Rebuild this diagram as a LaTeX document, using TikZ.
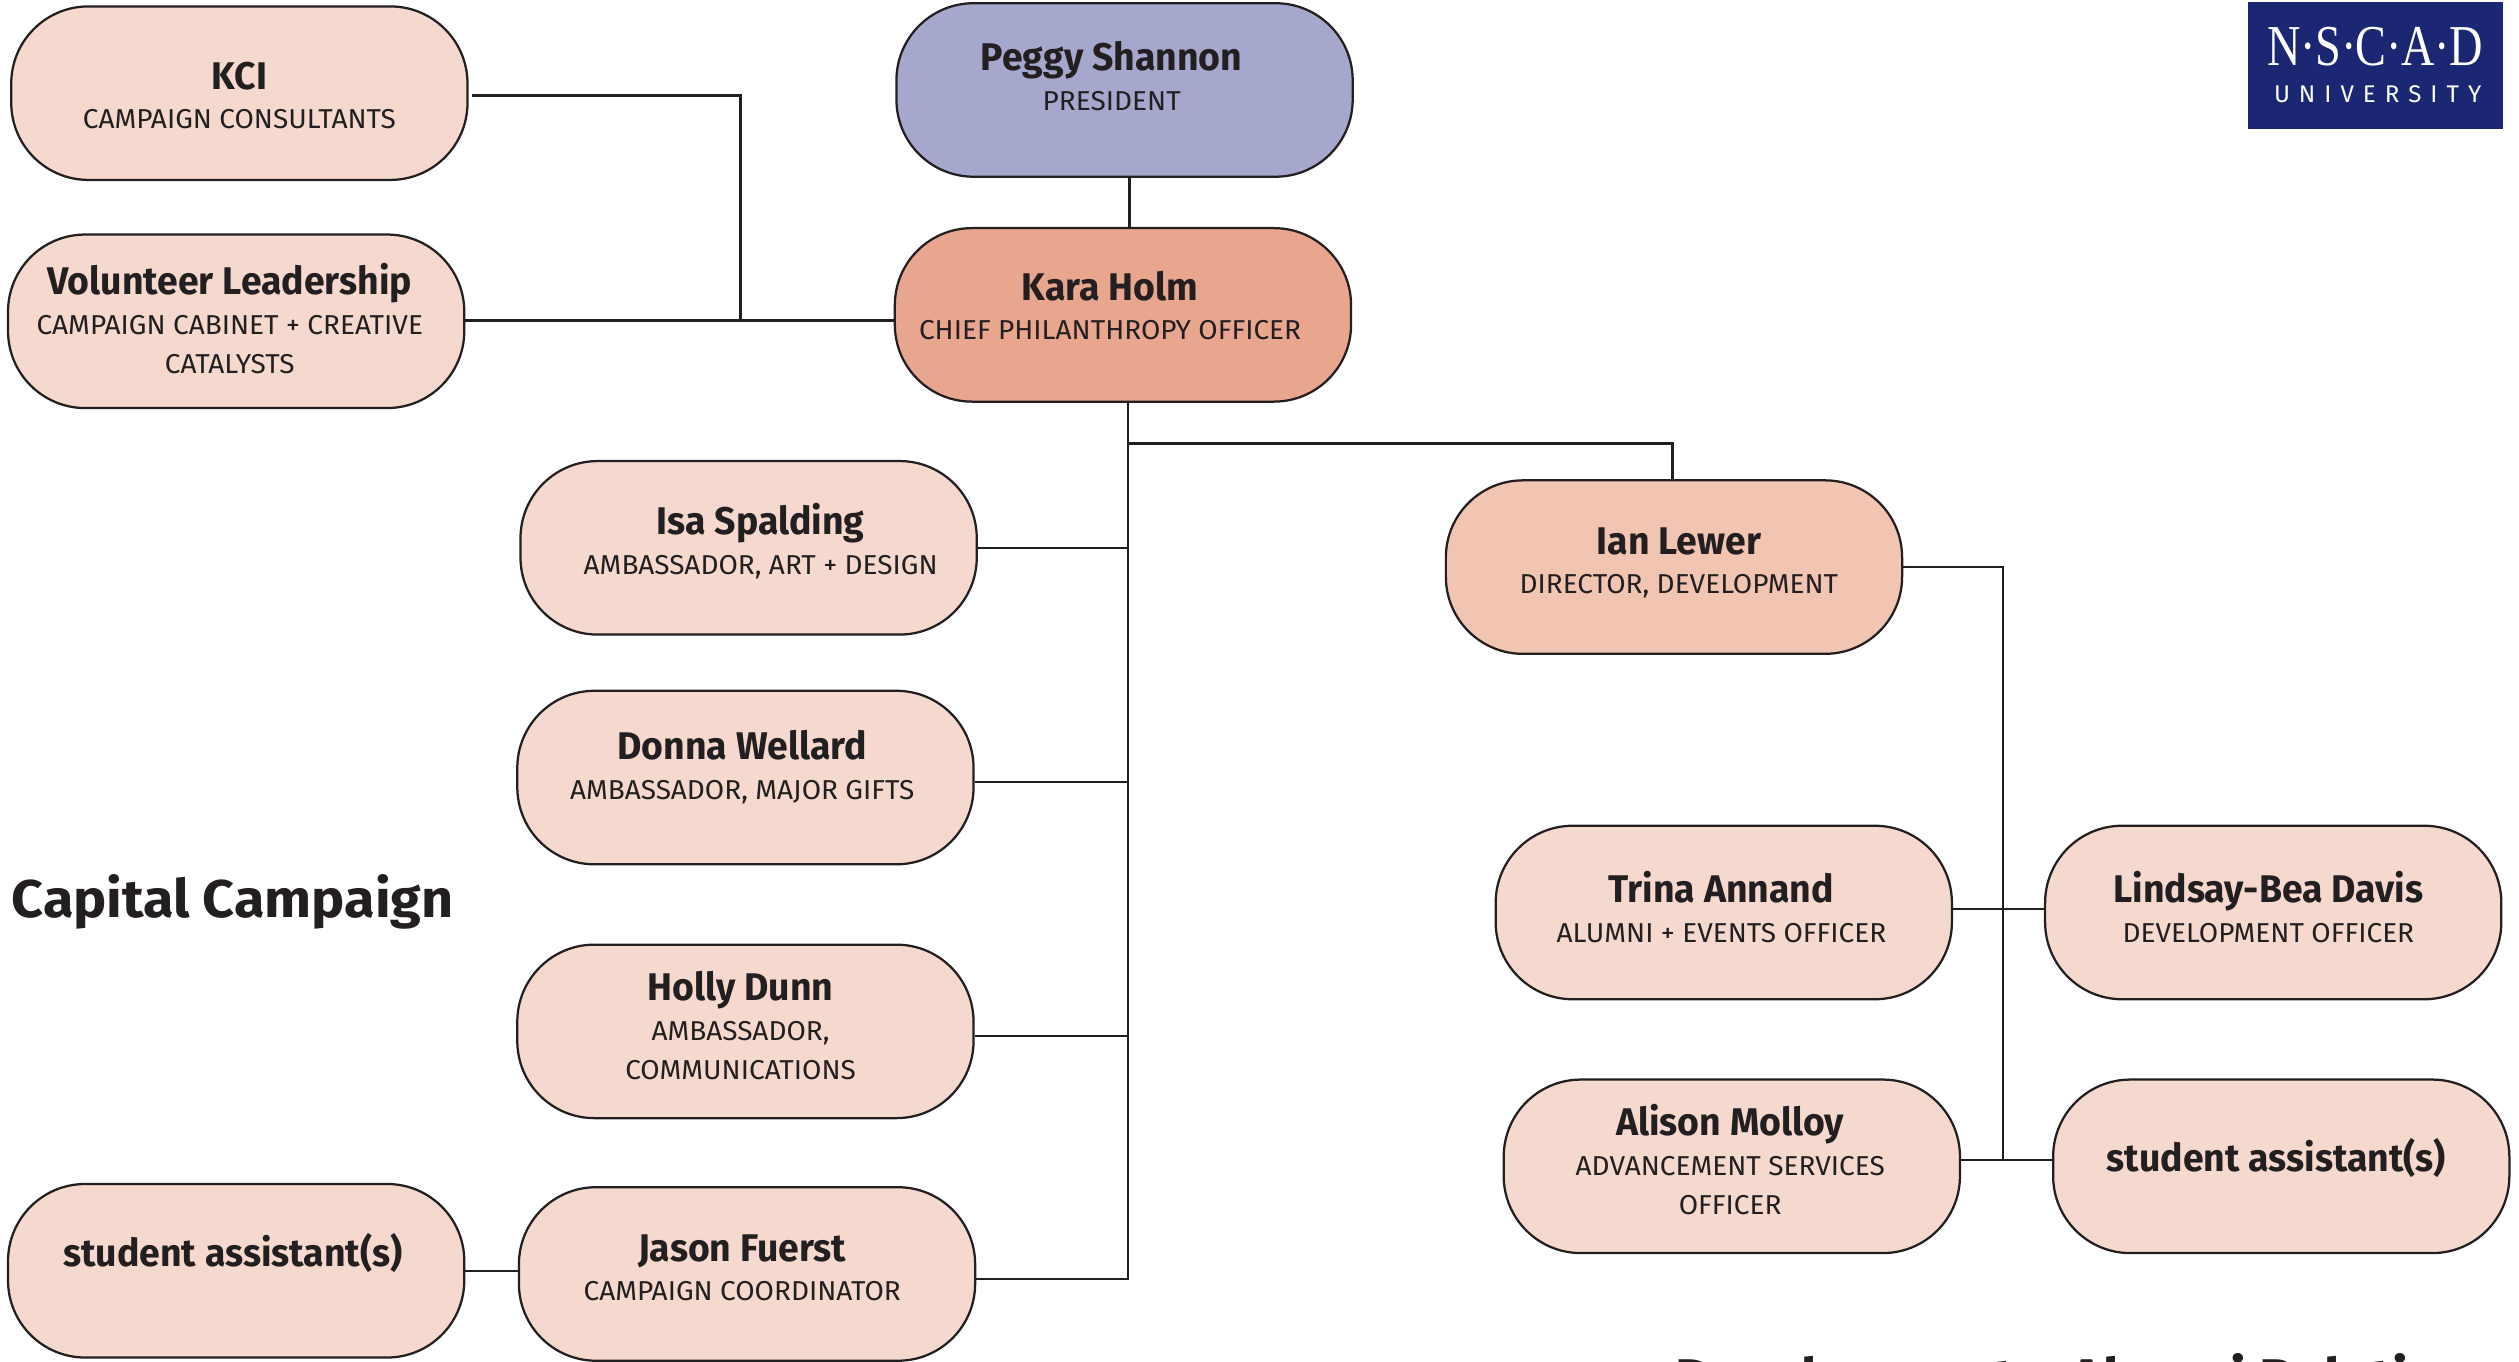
\documentclass[tikz,border=0pt]{standalone}
\usepackage{fontspec}
\setmainfont{Fira Sans}
\newfontface\rolefont{Fira Sans}[FakeStretch=1.025]
\newfontface\namefont{Fira Sans Bold}[FakeStretch=0.97]
\newfontface\headfont{Fira Sans Bold}[FakeStretch=1.05]
\newfontface\logoserif{Liberation Serif}[FakeStretch=0.8]
\definecolor{peach}{HTML}{F5D9CE}
\definecolor{peachmid}{HTML}{F2C4B2}
\definecolor{salmon}{HTML}{E9A68F}
\definecolor{lavender}{HTML}{A5A7CD}
\definecolor{ink}{HTML}{231F20}
\definecolor{navy}{HTML}{1B2772}
\tikzset{
  x=1pt,y=-1pt,
  card/.style={draw=ink,line width=1.4pt,fill=peach,rounded corners=48pt,minimum width=284pt,minimum height=108pt,inner sep=0pt,text=ink},
  wire/.style={draw=ink,line width=1.4pt},
  heading/.style={inner sep=0pt,text=ink,anchor=base west,font=\fontsize{33}{36}\headfont},
}
% #1 name, #2 style, #3 cx, #4 cy, #5 text centre x, #6 first baseline y, #7 lines
\newcommand{\person}[7]{%
  \pgfmathsetlengthmacro{\tdx}{2*(#5-#3)*1pt}%
  \pgfmathsetlengthmacro{\tdy}{(#4-#6)*1pt}%
  \node[card,#2] (#1) at (#3,#4) {\makebox[0pt]{\hspace{\tdx}\raisebox{\tdy}[0pt][0pt]{\fontsize{17}{24.6}\selectfont\begin{tabular}[t]{@{}c@{}}#7\end{tabular}}}};%
}
\newcommand{\who}[1]{{\fontsize{24}{24.6}\namefont #1}}
\newcommand{\job}[1]{{\rolefont #1}}
\begin{document}
\begin{tikzpicture}
\useasboundingbox (0,0) rectangle (1568,847.8);
\person{kci}{}{149}{58}{149}{55.5}{\who{KCI}\\\job{CAMPAIGN CONSULTANTS}}
\person{vol}{}{147}{200}{143}{183.5}{\who{Volunteer Leadership}\\\job{CAMPAIGN CABINET + CREATIVE}\\\job{CATALYSTS}}
\person{peggy}{fill=lavender}{700}{56}{692}{44}{\who{Peggy Shannon}\\\job{PRESIDENT}}
\person{kara}{fill=salmon}{699}{196}{691}{187}{\who{Kara Holm}\\\job{CHIEF PHILANTHROPY OFFICER}}
\person{isa}{}{466}{341}{473.5}{333}{\who{Isa Spalding}\\\job{AMBASSADOR, ART + DESIGN}}
\person{donna}{}{464}{484}{462}{473}{\who{Donna Wellard}\\\job{AMBASSADOR, MAJOR GIFTS}}
\person{holly}{}{464}{642}{461}{623}{\who{Holly Dunn}\\\job{AMBASSADOR,}\\\job{COMMUNICATIONS}}
\person{jason}{}{465}{793}{462}{785}{\who{Jason Fuerst}\\\job{CAMPAIGN COORDINATOR}}
\person{sal}{}{147}{791}{145}{788.5}{\who{student assistant(s)}}
\person{ian}{fill=peachmid}{1042}{353}{1045}{345}{\who{Ian Lewer}\\\job{DIRECTOR, DEVELOPMENT}}
\person{trina}{}{1073}{568}{1071.5}{562}{\who{Trina Annand}\\\job{ALUMNI + EVENTS OFFICER}}
\person{lindsay}{}{1415}{568}{1412}{562}{\who{Lindsay-Bea Davis}\\\job{DEVELOPMENT OFFICER}}
\person{alison}{}{1078}{726}{1077}{707}{\who{Alison Molloy}\\\job{ADVANCEMENT SERVICES}\\\job{OFFICER}}
\person{sar}{}{1420}{726}{1417}{729}{\who{student assistant(s)}}
% connectors
\coordinate (spinetop) at (702,250);
\coordinate (spinebot) at (702,796);
\coordinate (collect) at (461,199.5);
\coordinate (devbus) at (1247,722);
\coordinate (kcistart) at (294,59.5);
\path[wire] (kara.south -| spinetop) -- (spinebot) -- (spinebot -| jason.east);
\path[wire] (peggy.south -| 703,0) -- (kara.north -| 703,0);
\path[wire] (kcistart) -| (collect);
\path[wire] (vol.east |- collect) -- (kara.west |- collect);
\path[wire] (isa.east) -- (isa.east -| spinetop);
\path[wire] (donna.east |- 0,487) -- (spinetop |- 0,487);
\path[wire] (holly.east |- 0,645) -- (spinetop |- 0,645);
\path[wire] (spinetop |- 0,276) -| (ian.north -| 1041,0);
\path[wire] (ian.east) -| (devbus);
\path[wire] (trina.east |- 0,566) -- (lindsay.west |- 0,566);
\path[wire] (alison.east |- devbus) -- (sar.west |- devbus);
\path[wire] (sal.east) -- (jason.west |- sal.east);
% headings
\node[heading] (capital) at (7,571) {Capital Campaign};
\node[heading] (devrel) at (1043,869) {Development + Alumni Relations};
% logo
\node[fill=navy,minimum width=159pt,minimum height=79pt,inner sep=0pt] (logo) at (1478.5,40.5) {};
\node[inner sep=0pt,text=white,anchor=base,font=\fontsize{36}{36}\logoserif] (logoa) at (1478.5,41) {N{\kern-.3pt·\kern-.3pt}S{\kern-.3pt·\kern-.3pt}C{\kern-.3pt·\kern-.3pt}A{\kern-.3pt·\kern-.3pt}D};
\node[inner sep=0pt,text=white,anchor=base,font=\fontsize{15}{15}\selectfont] (logob) at (1480,64) {U\kern5.6pt N\kern5.6pt I\kern5.6pt V\kern5.6pt E\kern5.6pt R\kern5.6pt S\kern5.6pt I\kern5.6pt T\kern5.6pt Y};
\end{tikzpicture}
\end{document}
